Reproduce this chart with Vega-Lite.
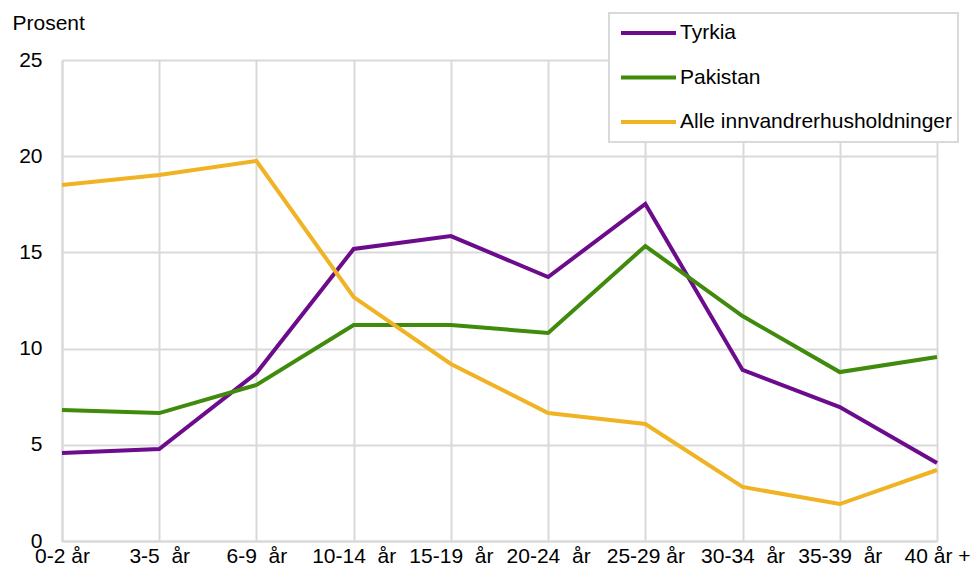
{
  "$schema": "https://vega.github.io/schema/vega-lite/v6.json",
  "width": 875,
  "height": 481,
  "autosize": "none",
  "padding": {"left": 62, "top": 60, "right": 36, "bottom": 27},
  "background": "white",
  "config": {
    "font": "Liberation Sans",
    "view": {"stroke": null},
    "axis": {"labelFont": "Liberation Sans", "labelFontSize": 21, "labelColor": "#000000", "gridColor": "#d9d9d9", "gridWidth": 2, "domainColor": "#d9d9d9", "domainWidth": 2, "ticks": false}
  },
  "data": {
    "values": [
      {"alder": "0-2 år", "serie": "Tyrkia", "verdi": 4.57},
      {"alder": "3-5\u00a0 år", "serie": "Tyrkia", "verdi": 4.78},
      {"alder": "6-9\u00a0 år", "serie": "Tyrkia", "verdi": 8.73},
      {"alder": "10-14\u00a0 år", "serie": "Tyrkia", "verdi": 15.18},
      {"alder": "15-19\u00a0 år", "serie": "Tyrkia", "verdi": 15.85},
      {"alder": "20-24\u00a0 år", "serie": "Tyrkia", "verdi": 13.72},
      {"alder": "25-29 år", "serie": "Tyrkia", "verdi": 17.52},
      {"alder": "30-34\u00a0 år", "serie": "Tyrkia", "verdi": 8.89},
      {"alder": "35-39\u00a0 år", "serie": "Tyrkia", "verdi": 6.96},
      {"alder": "40 år +", "serie": "Tyrkia", "verdi": 4.05},
      {"alder": "0-2 år", "serie": "Pakistan", "verdi": 6.81},
      {"alder": "3-5\u00a0 år", "serie": "Pakistan", "verdi": 6.65},
      {"alder": "6-9\u00a0 år", "serie": "Pakistan", "verdi": 8.11},
      {"alder": "10-14\u00a0 år", "serie": "Pakistan", "verdi": 11.23},
      {"alder": "15-19\u00a0 år", "serie": "Pakistan", "verdi": 11.23},
      {"alder": "20-24\u00a0 år", "serie": "Pakistan", "verdi": 10.81},
      {"alder": "25-29 år", "serie": "Pakistan", "verdi": 15.33},
      {"alder": "30-34\u00a0 år", "serie": "Pakistan", "verdi": 11.69},
      {"alder": "35-39\u00a0 år", "serie": "Pakistan", "verdi": 8.78},
      {"alder": "40 år +", "serie": "Pakistan", "verdi": 9.56},
      {"alder": "0-2 år", "serie": "Alle innvandrerhusholdninger", "verdi": 18.5},
      {"alder": "3-5\u00a0 år", "serie": "Alle innvandrerhusholdninger", "verdi": 19.02},
      {"alder": "6-9\u00a0 år", "serie": "Alle innvandrerhusholdninger", "verdi": 19.75},
      {"alder": "10-14\u00a0 år", "serie": "Alle innvandrerhusholdninger", "verdi": 12.68},
      {"alder": "15-19\u00a0 år", "serie": "Alle innvandrerhusholdninger", "verdi": 9.2},
      {"alder": "20-24\u00a0 år", "serie": "Alle innvandrerhusholdninger", "verdi": 6.65},
      {"alder": "25-29 år", "serie": "Alle innvandrerhusholdninger", "verdi": 6.08},
      {"alder": "30-34\u00a0 år", "serie": "Alle innvandrerhusholdninger", "verdi": 2.81},
      {"alder": "35-39\u00a0 år", "serie": "Alle innvandrerhusholdninger", "verdi": 1.92},
      {"alder": "40 år +", "serie": "Alle innvandrerhusholdninger", "verdi": 3.69}
    ]
  },
  "encoding": {
    "x": {
      "field": "alder", "type": "ordinal", "sort": null,
      "scale": {"type": "point", "padding": 0},
      "axis": {"title": null, "labelAngle": 0, "labelPadding": 4, "grid": true, "labelBaseline": "top"}
    },
    "y": {
      "field": "verdi", "type": "quantitative",
      "scale": {"domain": [0, 25], "nice": false},
      "axis": {"values": [0, 5, 10, 15, 20, 25], "labelPadding": 20, "grid": true,
        "title": "Prosent", "titleAngle": 0, "titleAlign": "left", "titleBaseline": "alphabetic",
        "titleX": -50, "titleY": -31, "titleFontSize": 21, "titleFontWeight": "normal", "titleFont": "Liberation Sans", "titleColor": "#000000"}
    },
    "color": {
      "field": "serie", "type": "nominal",
      "scale": {"domain": ["Tyrkia", "Pakistan", "Alle innvandrerhusholdninger"], "range": ["#6c0c8c", "#408a0c", "#efb323"]},
      "sort": null,
      "legend": {
        "title": null, "orient": "none", "legendX": 547, "legendY": -47,
        "symbolType": "stroke", "symbolSize": 400, "symbolStrokeWidth": 4, "symbolOffset": 5,
        "labelFontSize": 21, "labelFont": "Liberation Sans", "labelColor": "#000000", "labelOffset": 2,
        "clipHeight": 30,
        "rowPadding": 14.5, "padding": 5, "fillColor": "white", "strokeColor": "#d9d9d9",
        "labelLimit": 400,
        "encode": {
          "symbols": {"update": {"size": {"value": 3025}}},
          "legend": {"update": {"strokeWidth": {"value": 2}}}
        }
      }
    }
  },
  "layer": [
    {"transform": [{"filter": "datum.serie === 'Tyrkia'"}], "mark": {"type": "line", "strokeWidth": 4, "strokeJoin": "miter"}},
    {"transform": [{"filter": "datum.serie === 'Pakistan'"}], "mark": {"type": "line", "strokeWidth": 4, "strokeJoin": "miter"}},
    {"transform": [{"filter": "datum.serie === 'Alle innvandrerhusholdninger'"}], "mark": {"type": "line", "strokeWidth": 4, "strokeJoin": "miter"}}
  ]
}
